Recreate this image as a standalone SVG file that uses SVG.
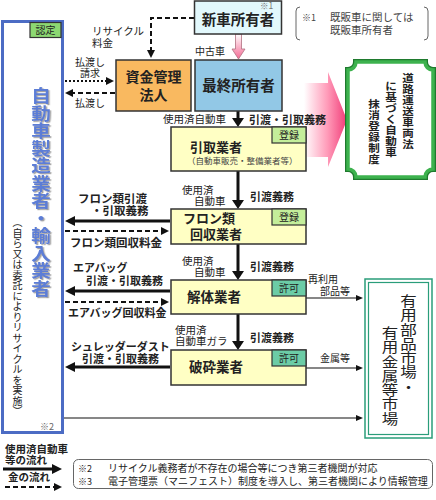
<svg xmlns="http://www.w3.org/2000/svg" width="436" height="500" viewBox="0 0 436 500">
<style>
.t{font-family:"Noto Sans CJK JP","Noto Sans",sans-serif;fill:#222}
.b{font-weight:bold}
.m{text-anchor:middle}
.box{stroke:#333;stroke-width:1.5}
.yb{fill:#ffffc4;stroke:#333;stroke-width:1.5}
.tag1{fill:#c4ee9a;stroke:#333;stroke-width:1.2}
.tag2{fill:#6ccca6;stroke:#333;stroke-width:1.2}
.sol{fill:none;stroke:#111;stroke-width:3}
.das{fill:none;stroke:#111;stroke-width:2;stroke-dasharray:5 3}
.dot{fill:none;stroke:#111;stroke-width:2;stroke-dasharray:2 2}
.thin{fill:none;stroke:#111;stroke-width:1.2}
</style>
<defs>
<marker id="A" viewBox="0 0 10 10" refX="2" refY="5" markerWidth="10" markerHeight="10" orient="auto" markerUnits="userSpaceOnUse"><path d="M0,0L10,5L0,10z" fill="#111"/></marker>
<marker id="AV" viewBox="0 0 9 12" refX="2" refY="6" markerWidth="9" markerHeight="12" orient="auto" markerUnits="userSpaceOnUse"><path d="M0,0L9,6L0,12z" fill="#111"/></marker>
<marker id="D" viewBox="0 0 8 8" refX="2" refY="4" markerWidth="8" markerHeight="8" orient="auto" markerUnits="userSpaceOnUse"><path d="M0,0L8,4L0,8z" fill="#111"/></marker>
<marker id="S" viewBox="0 0 7 6" refX="2" refY="3" markerWidth="7" markerHeight="6" orient="auto" markerUnits="userSpaceOnUse"><path d="M0,0L7,3L0,6z" fill="#111"/></marker>
<linearGradient id="pk" x1="0" y1="0" x2="1" y2="0"><stop offset="0" stop-color="#ffffff"/><stop offset="0.55" stop-color="#ff9ab8"/><stop offset="1" stop-color="#f03c78"/></linearGradient>
<linearGradient id="pk2" x1="0" y1="0" x2="0" y2="1"><stop offset="0" stop-color="#ffffff"/><stop offset="1" stop-color="#f46a94"/></linearGradient>
<filter id="sh" x="-20%" y="-5%" width="140%" height="110%"><feDropShadow dx="1.2" dy="1.2" stdDeviation="0.3" flood-color="#999" flood-opacity="0.9"/></filter>
</defs>
<rect width="436" height="500" fill="#fff"/>

<!-- big pink arrow -->
<polygon points="304,83 328,83 328,72 347,120 328,167 328,157 304,157" fill="url(#pk)"/>

<g id="connectors">
<path class="sol" d="M238,111V120" marker-end="url(#AV)"/>
<path class="sol" d="M238,171V202" marker-end="url(#AV)"/>
<path class="sol" d="M238,244V273" marker-end="url(#AV)"/>
<path class="sol" d="M238,314V343" marker-end="url(#AV)"/>
<path class="sol" d="M170,221H73" marker-end="url(#A)"/>
<path class="das" d="M65,231H163" marker-end="url(#D)"/>
<path class="sol" d="M170,291H73" marker-end="url(#A)"/>
<path class="das" d="M65,302H163" marker-end="url(#D)"/>
<path class="sol" d="M170,367H73" marker-end="url(#A)"/>
<path class="dot" d="M65,81H108" marker-end="url(#D)"/>
<path class="das" d="M115,93H71" marker-end="url(#D)"/>
<path class="das" d="M194,18H151V52" marker-end="url(#D)"/>
<path class="thin" d="M306,298H358" marker-end="url(#S)"/>
<path class="thin" d="M306,368H358" marker-end="url(#S)"/>
<path class="thin" d="M64,418H358" marker-end="url(#S)"/>
<polygon points="235.5,34 241.5,34 241.5,49 245,49 238.5,59 232,49 235.5,49" fill="url(#pk2)" stroke="#b07080" stroke-width="0.8"/>
</g>

<g id="maker">
<rect x="2.5" y="21.5" width="60" height="411" fill="#fff" stroke="#4c6cc4" stroke-width="3"/>
<rect class="tag1" x="30" y="22.5" width="31" height="15" style="fill:#8cd872"/>
<text class="t" x="45.5" y="34" font-size="10" text-anchor="middle">認定</text>
<text class="t b m" font-size="17" style="fill:#5b7dd6" filter="url(#sh)" transform="translate(41,0) scale(1.15,1)" x="0 0 0 0 0 0 0 0 0 0 0 0" y="102.5 120 137.5 155 172.5 190 207.5 225 242.5 260 277.5 295">自動車製造業者・輸入業者</text>
<text class="t m" font-size="10" x="17.5 17.5 17.5 17.5 17.5 17.5 17.5 17.5 17.5 17.5 17.5 17.5 17.5 17.5 17.5 17.5 17.5 17.5 17.5" y="226.3 236.8 247.3 257.8 268.3 278.8 289.3 299.8 310.3 320.8 331.3 341.8 352.3 362.8 373.3 383.8 394.3 404.8 415.3">︵自ら又は委託によりリサイクルを実施︶</text>
<text class="t" x="40" y="430" font-size="9" style="fill:#666">※2</text>
</g>

<g id="shinsha">
<rect class="box" x="194.5" y="1" width="87" height="33" fill="#e2f8fc"/>
<text class="t" x="260" y="9" font-size="8.5" style="fill:#777">※1</text>
<text class="t b" x="238" y="25" font-size="14.5" text-anchor="middle">新車所有者</text>
</g>

<g id="note1">
<path d="M300,7Q296,7 296,11V36Q296,40 300,40M424,7Q428,7 428,11V36Q428,40 424,40" fill="none" stroke="#666" stroke-width="1"/>
<text class="t" x="302" y="21" font-size="9" style="fill:#444">※1</text>
<text class="t" x="330" y="21" font-size="10.5" style="fill:#444">既販車に関しては</text>
<text class="t" x="330" y="34" font-size="10.5" style="fill:#444">既販車所有者</text>
</g>

<g id="shikin">
<rect class="box" x="116" y="60" width="75" height="51" fill="#f9b960"/>
<text class="t b" x="153.5" y="82" font-size="14" text-anchor="middle">資金管理</text>
<text class="t b" x="153.5" y="100" font-size="14" text-anchor="middle">法人</text>
</g>

<g id="saishu">
<rect class="box" x="195" y="60" width="87" height="51" fill="#92c8e6"/>
<text class="t b" x="238.5" y="91" font-size="14.5" text-anchor="middle">最終所有者</text>
</g>

<g id="massho">
<path d="M356,62H425A8,8 0 0 0 433,70V169A8,8 0 0 0 425,177H356A8,8 0 0 0 348,169V70A8,8 0 0 0 356,62Z" fill="#fff" stroke="#1f7a2e" stroke-width="6"/>
<path d="M356,62H425A8,8 0 0 0 433,70V169A8,8 0 0 0 425,177H356A8,8 0 0 0 348,169V70A8,8 0 0 0 356,62Z" fill="#fff" stroke="#3db24e" stroke-width="3.5"/>
<text class="t b m" font-size="10.5" transform="translate(408,0) scale(1.1,1)" x="0 0 0 0 0 0 0" y="82 93 104 115 126 137 148">道路運送車両法</text>
<text class="t b m" font-size="10.5" transform="translate(391,0) scale(1.1,1)" x="0 0 0 0 0 0 0" y="90 101 112 123 134 145 156">に基づく自動車</text>
<text class="t b m" font-size="10.5" transform="translate(374,0) scale(1.1,1)" x="0 0 0 0 0 0" y="108 119 130 141 152 163">抹消登録制度</text>
</g>

<g id="hikitori">
<rect class="yb" x="171" y="127" width="135" height="44"/>
<rect class="tag1" x="272" y="127" width="34" height="16"/>
<text class="t" x="289" y="139" font-size="10" text-anchor="middle">登録</text>
<text class="t b" x="190" y="152" font-size="13">引取業者</text>
<text class="t" x="187" y="164" font-size="8.5" style="fill:#444">（自動車販売・整備業者等）</text>
</g>

<g id="freon">
<rect class="yb" x="171" y="209" width="135" height="35"/>
<rect class="tag1" x="272" y="209" width="34" height="16"/>
<text class="t" x="289" y="221" font-size="10" text-anchor="middle">登録</text>
<text class="t b" x="183" y="223" font-size="13">フロン類</text>
<text class="t b" x="190" y="239" font-size="13">回収業者</text>
</g>

<g id="kaitai">
<rect class="yb" x="171" y="280" width="135" height="34"/>
<rect class="tag2" x="272" y="280" width="34" height="16"/>
<text class="t" x="289" y="292" font-size="10" text-anchor="middle">許可</text>
<text class="t b" x="187" y="302" font-size="13.5">解体業者</text>
</g>

<g id="hasai">
<rect class="yb" x="171" y="350" width="135" height="35"/>
<rect class="tag2" x="272" y="350" width="34" height="16"/>
<text class="t" x="289" y="362" font-size="10" text-anchor="middle">許可</text>
<text class="t b" x="189" y="372" font-size="13.5">破砕業者</text>
</g>

<g id="market">
<rect x="365" y="279" width="67" height="159" fill="#fff" stroke="#2a9d7a" stroke-width="1.5"/>
<rect x="368.5" y="282.5" width="60" height="152" fill="none" stroke="#2a9d7a" stroke-width="1.2"/>
<text class="t m" font-size="14" transform="translate(408.5,0) scale(1.18,1)" x="0 0 0 0 0 0 0" y="306 320.3 334.6 348.9 363.2 377.5 391.8">有用部品市場・</text>
<text class="t m" font-size="14" transform="translate(390,0) scale(1.18,1)" x="0 0 0 0 0 0 0" y="338 352.3 366.6 380.9 395.2 409.5 423.8">有用金属等市場</text>
</g>

<g id="labels">
<text class="t" x="92" y="35" font-size="10.5">リサイクル</text>
<text class="t" x="92" y="47" font-size="10.5">料金</text>
<text class="t" x="90" y="66" font-size="10" text-anchor="middle">払渡し</text>
<text class="t" x="90" y="77" font-size="10" text-anchor="middle">請求</text>
<text class="t" x="90" y="107" font-size="10" text-anchor="middle">払渡し</text>
<text class="t" x="195" y="55" font-size="10">中古車</text>
<text class="t" x="226" y="123" font-size="10.5" text-anchor="end">使用済自動車</text>
<text class="t b" x="249" y="124" font-size="11">引渡・引取義務</text>
<text class="t" x="182" y="194" font-size="10.5">使用済</text>
<text class="t" x="194" y="205" font-size="10.5">自動車</text>
<text class="t b" x="250" y="201" font-size="11">引渡義務</text>
<text class="t" x="182" y="265" font-size="10.5">使用済</text>
<text class="t" x="194" y="276" font-size="10.5">自動車</text>
<text class="t b" x="250" y="271" font-size="11">引渡義務</text>
<text class="t" x="175" y="334" font-size="10.5">使用済</text>
<text class="t" x="175" y="345" font-size="10.5">自動車ガラ</text>
<text class="t b" x="250" y="342" font-size="11">引渡義務</text>
<text class="t b" x="78" y="203" font-size="11.5">フロン類引渡</text>
<text class="t b" x="91" y="215" font-size="11.5">・引取義務</text>
<text class="t b" x="70" y="247" font-size="11.5">フロン類回収料金</text>
<text class="t b" x="73" y="272" font-size="11">エアバッグ</text>
<text class="t b" x="86" y="285" font-size="11">引渡・引取義務</text>
<text class="t b" x="68" y="317" font-size="11">エアバッグ回収料金</text>
<text class="t b" x="71" y="351" font-size="11">シュレッダーダスト</text>
<text class="t b" x="82" y="363" font-size="11">引渡・引取義務</text>
<text class="t" x="308" y="283" font-size="10">再利用</text>
<text class="t" x="320" y="295" font-size="10">部品等</text>
<text class="t" x="320" y="362" font-size="10">金属等</text>
</g>

<g id="legend">
<text class="t b" x="5" y="453" font-size="10.5">使用済自動車</text>
<text class="t b" x="5" y="464" font-size="10.5">等の流れ</text>
<path class="sol" d="M3,469H54" marker-end="url(#A)"/>
<text class="t b" x="8" y="481" font-size="10.5">金の流れ</text>
<path class="das" d="M5,487H56" marker-end="url(#D)"/>
<rect x="73.5" y="459.5" width="359" height="29" rx="5" fill="#fff" stroke="#666" stroke-width="1"/>
<text class="t" x="78" y="472" font-size="9">※2</text>
<text class="t" x="108" y="472" font-size="10">リサイクル義務者が不存在の場合等につき第三者機関が対応</text>
<text class="t" x="78" y="485" font-size="9">※3</text>
<text class="t" x="108" y="485" font-size="10">電子管理票（マニフェスト）制度を導入し、第三者機関により情報管理</text>
</g>
</svg>
